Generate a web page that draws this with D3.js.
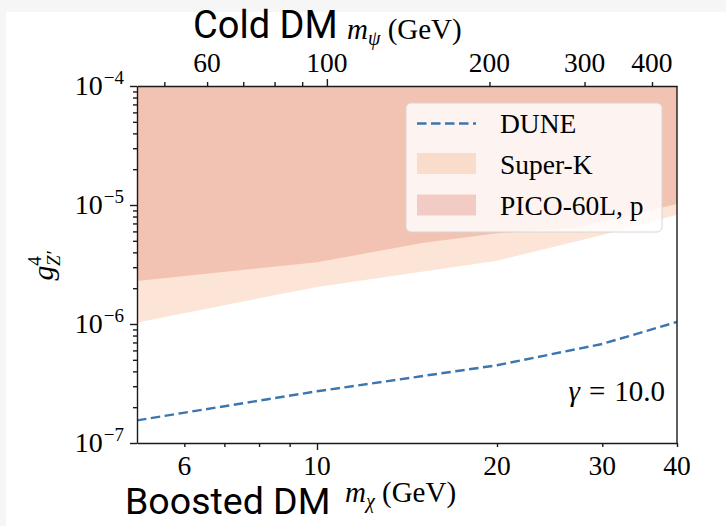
<!DOCTYPE html>
<html>
<head>
<meta charset="utf-8">
<script src="https://cdn.jsdelivr.net/npm/d3@7"></script>
<style>
  body { margin: 0; background: #f6f6f6; }
  svg { display: block; }
</style>
</head>
<body>
<div id="chart"></div>
<script>
// values (m_chi in GeV, g^4_Z')
const duneMass = [5, 10, 20, 30, 40];
const duneLimit = [1.55e-7, 2.72e-7, 4.5e-7, 6.8e-7, 1.04e-6];

const superKMass = [5, 10, 20, 30, 40];
const superKLimit = [1.03e-6, 2.05e-6, 3.4e-6, 5.6e-6, 8.3e-6];

const picoMass = [5, 10, 15, 20, 27, 40];
const picoLimit = [2.3e-6, 3.3e-6, 4.8e-6, 5.8e-6, 6.4e-6, 1.02e-5];

const bottomLabels = [6, 10, 20, 30, 40];
const bottomTicks = [6, 7, 8, 9, 10, 20, 30, 40];
const topLabels = [60, 100, 200, 300, 400];
const topTicks = [50, 60, 70, 80, 90, 100, 200, 300, 400];
const yExponents = [-4, -5, -6, -7];

const legendItems = ["DUNE", "Super-K", "PICO-60L, p"];

const W = 726, H = 526;
const margin = {top: 86, right: 49, bottom: 83, left: 137};
const width = W - margin.left - margin.right;
const height = H - margin.top - margin.bottom;

const serif = "'Liberation Serif', 'Times New Roman', serif";
const sans = "Roboto, 'Noto Sans', sans-serif";

const skColor = "#f5a876", skAlpha = 0.3;
const picoColor = "#db7361", picoAlpha = 0.3;
const duneColor = "#3b76af";

let svg = d3.select("#chart").append("svg")
    .attr("width", W)
    .attr("height", H);

// white page area (the reference has a thin grey frame on top/left)
svg.append("rect").attr("x", 6).attr("y", 12)
    .attr("width", W).attr("height", H).attr("fill", "#fff");

const g = svg.append("g").attr("transform", `translate(${margin.left}, ${margin.top})`);

let x = d3.scaleLog().domain([5, 40]).range([0, width]);
let xTop = d3.scaleLog().domain([44.5, 445]).range([0, width]);
let y = d3.scaleLog().domain([1e-7, 1e-4]).range([height, 0]);

g.append("clipPath").attr("id", "plotclip")
    .append("rect").attr("width", width).attr("height", height);

const plot = g.append("g").attr("clip-path", "url(#plotclip)");

// excluded regions: from the limit curve up to the top of the frame
let band = d3.area()
    .x(d => x(d[0]))
    .y0(d => y(d[1]))
    .y1(0);

plot.append("path")
    .datum(d3.zip(superKMass, superKLimit))
    .attr("d", band)
    .attr("fill", skColor)
    .attr("fill-opacity", skAlpha);

plot.append("path")
    .datum(d3.zip(picoMass, picoLimit))
    .attr("d", band)
    .attr("fill", picoColor)
    .attr("fill-opacity", picoAlpha);

// DUNE sensitivity
plot.append("path")
    .datum(d3.zip(duneMass, duneLimit))
    .attr("d", d3.line().x(d => x(d[0])).y(d => y(d[1])))
    .attr("fill", "none")
    .attr("stroke", duneColor)
    .attr("stroke-width", 2.4)
    .attr("stroke-dasharray", "9.5,4.5");

// axes: ticks only, labels are drawn by hand below
let tickLen = d => (d === 10 || d === 100) ? 7 : 4;

let gBottom = g.append("g").attr("transform", `translate(0, ${height})`)
    .call(d3.axisBottom(x).tickValues(bottomTicks).tickFormat("").tickSizeOuter(0));
gBottom.selectAll(".tick line").attr("y2", d => tickLen(d));

let gTop = g.append("g")
    .call(d3.axisTop(xTop).tickValues(topTicks).tickFormat("").tickSizeOuter(0));
gTop.selectAll(".tick line").attr("y2", d => -tickLen(d));

let yMinor = [];
for (let e = -7; e < -4; e++) {
    for (let k = 1; k < 10; k++) yMinor.push(k * Math.pow(10, e));
}
yMinor.push(1e-4);

let gLeft = g.append("g")
    .call(d3.axisLeft(y).tickValues(yMinor).tickFormat("").tickSizeOuter(0));
gLeft.selectAll(".tick line")
    .attr("x2", d => Math.abs(Math.log10(d) - Math.round(Math.log10(d))) < 1e-6 ? -7 : -4);

g.append("line")
    .attr("x1", width).attr("x2", width)
    .attr("y1", 0).attr("y2", height);

g.selectAll(".domain, .tick line, line")
    .attr("stroke", "#1a1a1a")
    .attr("stroke-width", 1.4);

// tick labels
g.append("g").selectAll("text")
    .data(bottomLabels)
    .enter()
    .append("text")
    .attr("x", d => x(d))
    .attr("y", height + 32)
    .attr("text-anchor", "middle")
    .style("font-family", serif)
    .style("font-size", "27.5px")
    .text(d => d);

g.append("g").selectAll("text")
    .data(topLabels)
    .enter()
    .append("text")
    .attr("x", d => xTop(d))
    .attr("y", -14)
    .attr("text-anchor", "middle")
    .style("font-family", serif)
    .style("font-size", "27.5px")
    .text(d => d);

let yLab = g.append("g").selectAll("text")
    .data(yExponents)
    .enter()
    .append("text")
    .attr("x", -13)
    .attr("y", d => y(Math.pow(10, d)) + 9)
    .attr("text-anchor", "end")
    .style("font-family", serif)
    .style("font-size", "28px");
yLab.append("tspan").text("10");
yLab.append("tspan")
    .attr("dx", 1)
    .attr("dy", -11)
    .style("font-size", "19px")
    .text(d => "\u2212" + Math.abs(d));

// axis titles
svg.append("text")
    .attr("x", 193).attr("y", 38)
    .style("font-family", sans)
    .style("font-size", "38px")
    .text("Cold DM");

let topTitle = svg.append("text")
    .attr("x", 347).attr("y", 39)
    .style("font-family", serif)
    .style("font-size", "29px");
topTitle.append("tspan").style("font-style", "italic").text("m");
topTitle.append("tspan").attr("dy", 6).style("font-size", "20px").style("font-style", "italic").text("\u03c8");
topTitle.append("tspan").attr("dy", -6).text(" (GeV)");

svg.append("text")
    .attr("x", 125).attr("y", 514)
    .style("font-family", sans)
    .style("font-size", "37.5px")
    .text("Boosted DM");

let botTitle = svg.append("text")
    .attr("x", 345).attr("y", 502)
    .style("font-family", serif)
    .style("font-size", "29px");
botTitle.append("tspan").style("font-style", "italic").text("m");
botTitle.append("tspan").attr("dy", 6).style("font-size", "20px").style("font-style", "italic").text("\u03c7");
botTitle.append("tspan").attr("dy", -6).text(" (GeV)");

let yTitle = svg.append("text")
    .attr("transform", "translate(53, 266) rotate(-90)")
    .attr("text-anchor", "middle")
    .style("font-family", serif)
    .style("font-size", "30px");
yTitle.append("tspan").style("font-style", "italic").text("g");
yTitle.append("tspan").attr("dy", -12).style("font-size", "19px").text("4");
yTitle.append("tspan").attr("dx", -10).attr("dy", 19).style("font-size", "19px").style("font-style", "italic").text("Z\u2032");

// annotation
let gamma = svg.append("text")
    .attr("x", 665).attr("y", 401)
    .attr("text-anchor", "end")
    .style("font-family", serif)
    .style("font-size", "29px");
gamma.append("tspan").style("font-style", "italic").text("\u03b3");
gamma.append("tspan").attr("dx", 9).text("=");
gamma.append("tspan").attr("dx", 9).text("10.0");

// legend
const lg = svg.append("g").attr("transform", "translate(406, 103)");
lg.append("rect")
    .attr("width", 256).attr("height", 129)
    .attr("rx", 5)
    .attr("fill", "#fff")
    .attr("fill-opacity", 0.8)
    .attr("stroke", "#d6d6d6");

lg.append("line")
    .attr("x1", 11).attr("x2", 70)
    .attr("y1", 20.5).attr("y2", 20.5)
    .attr("stroke", duneColor)
    .attr("stroke-width", 2.4)
    .attr("stroke-dasharray", "9.5,4.5");

lg.append("rect").attr("x", 11).attr("y", 50).attr("width", 59).attr("height", 21)
    .attr("fill", skColor).attr("fill-opacity", skAlpha);
lg.append("rect").attr("x", 11).attr("y", 91.5).attr("width", 59).attr("height", 21)
    .attr("fill", picoColor).attr("fill-opacity", picoAlpha);

lg.selectAll(".lt")
    .data(legendItems)
    .enter()
    .append("text")
    .attr("class", "lt")
    .attr("x", 94)
    .attr("y", (d, i) => 30 + i * 41)
    .style("font-family", serif)
    .style("font-size", "27.5px")
    .text(d => d);
</script>
</body>
</html>
